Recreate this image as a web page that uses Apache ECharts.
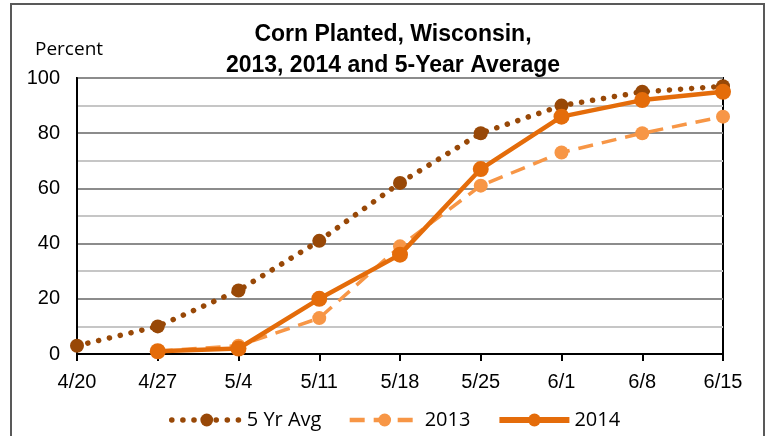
<!DOCTYPE html>
<html>
<head>
<meta charset="utf-8">
<script src="https://cdn.jsdelivr.net/npm/echarts@6/dist/echarts.min.js"></script>
<style>
html,body{margin:0;padding:0;background:#fff;}
#chart{width:769px;height:436px;}
</style>
</head>
<body>
<div id="chart"></div>
<script>
var categories = ['4/20','4/27','5/4','5/11','5/18','5/25','6/1','6/8','6/15'];
var avg5 = [3, 10, 23, 41, 62, 80, 90, 95, 97];
var y2013 = [null, 1, 3, 13, 39, 61, 73, 80, 86];
var y2014 = [null, 1, 2, 20, 36, 67, 86, 92, 95];
var seriesNames = ['5 Yr Avg', '2013', '2014'];

var chart = echarts.init(document.getElementById('chart'), null, {renderer: 'canvas'});
var option = {
  animation: false,
  backgroundColor: '#fff',
  title: {
    text: 'Corn Planted, Wisconsin,\n2013, 2014 and 5-Year Average',
    left: 388,
    textAlign: 'center',
    top: 14,
    textStyle: {
      fontFamily: 'Liberation Sans',
      fontWeight: 'bold',
      fontSize: 23,
      lineHeight: 31,
      color: '#000'
    }
  },
  graphic: [
    {
      type: 'rect',
      shape: {x: 11, y: 4, width: 753, height: 440},
      style: {fill: 'none', stroke: '#595959', lineWidth: 2},
      silent: true
    },
    {
      type: 'text',
      left: 35,
      top: 40,
      style: {text: 'Percent', font: '19px "Open Sans"', fill: '#000'}
    }
  ],
  legend: {
    left: 164,
    top: 405,
    itemWidth: 70,
    itemHeight: 16,
    itemGap: 26,
    textStyle: {fontFamily: 'Open Sans', fontSize: 20, color: '#000'},
    data: [
      {name: seriesNames[0], lineStyle: {width: 5.5, type: [0.1, 11], cap: 'round'}},
      {name: seriesNames[1], lineStyle: {width: 4.5, type: [15, 9]}},
      {name: seriesNames[2], lineStyle: {width: 6}}
    ]
  },
  grid: {
    left: 77, right: 46, top: 78, bottom: 82,
    show: true, borderColor: '#000', borderWidth: 2, backgroundColor: '#fff'
  },
  xAxis: {
    type: 'category',
    data: categories,
    boundaryGap: false,
    axisLine: {show: true, lineStyle: {color: '#000', width: 2}},
    axisTick: {show: true, length: 7, lineStyle: {color: '#000', width: 2}},
    axisLabel: {fontFamily: 'Liberation Sans', fontSize: 20, color: '#000', margin: 18},
    splitLine: {show: false}
  },
  yAxis: {
    type: 'value',
    min: 0, max: 100, interval: 20,
    axisLine: {show: true, lineStyle: {color: '#000', width: 2}},
    axisTick: {show: false},
    axisLabel: {fontFamily: 'Liberation Sans', fontSize: 20, color: '#000', margin: 17},
    splitLine: {show: true, lineStyle: {color: '#8c8c8c', width: 2}},
    minorTick: {show: false, splitNumber: 2},
    minorSplitLine: {show: true, lineStyle: {color: '#c6c6c6', width: 2}}
  },
  series: [
    {
      name: seriesNames[0],
      type: 'line',
      data: avg5,
      color: '#984807',
      symbol: 'circle',
      symbolSize: 14,
      lineStyle: {color: '#984807', width: 5.5, type: [0.1, 11], cap: 'round'},
      itemStyle: {color: '#984807'},
      z: 2
    },
    {
      name: seriesNames[1],
      type: 'line',
      data: y2013,
      color: '#F79646',
      symbol: 'circle',
      symbolSize: 14,
      lineStyle: {color: '#F79646', width: 3.5, type: [15, 9]},
      itemStyle: {color: '#F79646'},
      z: 3
    },
    {
      name: seriesNames[2],
      type: 'line',
      data: y2014,
      color: '#E46C0A',
      symbol: 'circle',
      symbolSize: 16,
      lineStyle: {color: '#E46C0A', width: 4.5},
      itemStyle: {color: '#E46C0A'},
      z: 4
    }
  ]
};
chart.setOption(option);
</script>
</body>
</html>
